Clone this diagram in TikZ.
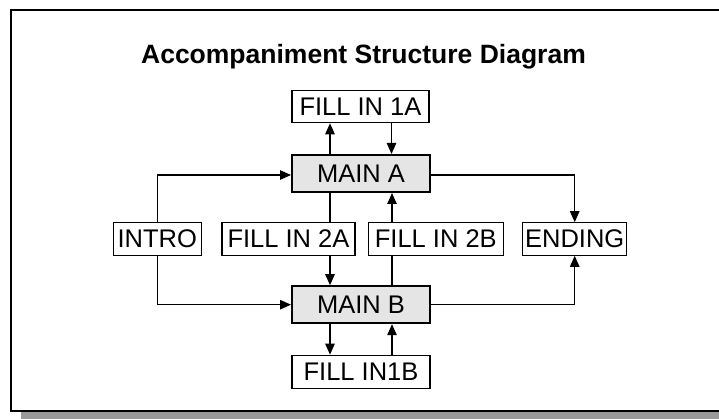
\documentclass[tikz,border=0pt]{standalone}
\usepackage{fontspec}
\setmainfont{Liberation Sans}
\usetikzlibrary{arrows.meta}
\tikzset{
  box/.style={draw=black, line width=1.1pt, fill=white, inner sep=0pt, minimum height=32.5pt, font=\fontsize{25.5}{28}\selectfont},
  mainbox/.style={box, line width=2pt, fill=black!10, minimum height=37pt, minimum width=138pt},
  conn/.style={line width=1.1pt},
  arr/.style={conn, -{Triangle[length=11pt,width=9.5pt]}},
}
\begin{document}
\begin{tikzpicture}[x=1pt,y=-1pt]
\useasboundingbox (0,0) rectangle (719,419);
% shadow and frame
\fill[black!40] (21,411.5) rectangle (719,419);
\draw[line width=1.2pt] (719,10) -- (11,10) -- (11,411) -- (719,411);
% title
\node[anchor=base, font=\fontsize{26.5}{29}\selectfont\bfseries] (title) at (363.5,63.3) {Accompaniment Structure Diagram};
% nodes
\node[box, minimum width=137pt] (fill1a) at (360.5,106.5) {FILL IN 1A};
\node[mainbox] (mainA) at (361,173.5) {MAIN A};
\node[box, minimum width=88.5pt] (intro) at (157.3,239) {INTRO};
\node[box, minimum width=133pt] (fill2a) at (288.5,239) {FILL IN 2A};
\node[box, minimum width=135pt] (fill2b) at (435.8,239) {FILL IN 2B};
\node[box, minimum width=104pt] (ending) at (574.7,239) {ENDING};
\node[mainbox] (mainB) at (361,304.7) {MAIN B};
\node[box, minimum width=138pt, minimum height=33pt] (fill1b) at (361,371.7) {FILL IN1B};
% connectors
\draw[arr] ([xshift=-31pt]mainA.north) -- ([xshift=-31pt]mainA.north |- fill1a.south);
\draw[arr] ([xshift=31pt]fill1a.south) -- ([xshift=31pt]fill1a.south |- mainA.north);
\draw[conn] ([xshift=-31pt]mainA.south) -- ([xshift=-31pt]mainA.south |- fill2a.north);
\draw[arr] ([xshift=-31pt]mainA.south |- fill2a.south) -- ([xshift=-31pt]mainB.north);
\draw[conn] ([xshift=31pt]mainB.north) -- ([xshift=31pt]mainB.north |- fill2b.south);
\draw[arr] ([xshift=31pt]mainB.north |- fill2b.north) -- ([xshift=31pt]mainA.south);
\draw[arr] ([xshift=-31pt]mainB.south) -- ([xshift=-31pt]mainB.south |- fill1b.north);
\draw[arr] ([xshift=31pt]fill1b.north) -- ([xshift=31pt]mainB.south);
\draw[arr] (intro.north) |- ([yshift=-1.5pt]mainA.west);
\draw[arr] (intro.south) |- (mainB.west);
\draw[arr] ([yshift=-1.5pt]mainA.east) -| (ending.north);
\draw[arr] (mainB.east) -| (ending.south);
\end{tikzpicture}
\end{document}
